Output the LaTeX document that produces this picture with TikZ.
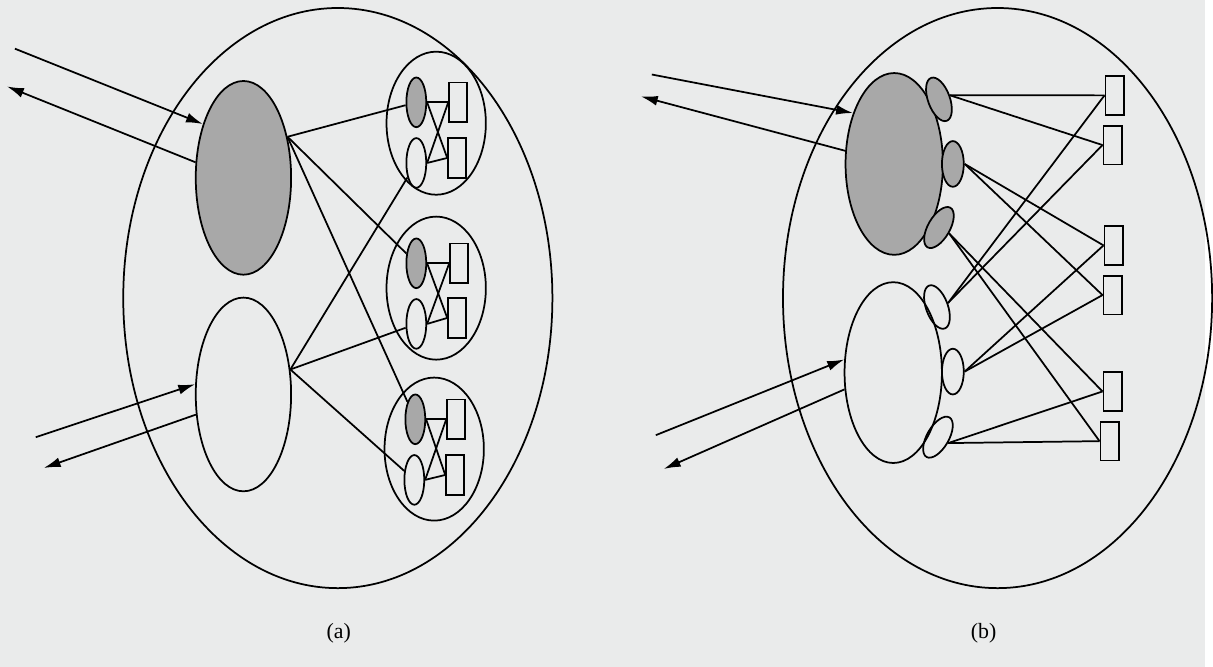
\documentclass[tikz,border=0pt]{standalone}
\usepackage{fontspec}
\setmainfont{Liberation Serif}
\usetikzlibrary{arrows.meta,shapes.geometric}
\definecolor{paper}{RGB}{234,235,235}
\definecolor{shade}{RGB}{168,168,168}

\begin{document}
\begin{tikzpicture}[x=0.02cm, y=-0.02cm, line width=1pt,
    >={Latex[length=3.4mm,width=2mm]},
    outer/.style={draw, ellipse, inner sep=0pt,
                  minimum width=8.64cm, minimum height=11.68cm},
    core/.style={draw, ellipse, inner sep=0pt,
                 minimum width=1.92cm, minimum height=3.9cm},
    pod/.style={draw, ellipse, inner sep=0pt,
                minimum width=2.0cm, minimum height=2.88cm},
    cell/.style={draw, ellipse, inner sep=0pt,
                 minimum width=0.4cm, minimum height=1.0cm},
    port/.style={draw, ellipse, inner sep=0pt,
                 minimum width=0.44cm, minimum height=0.92cm},
    box/.style={draw, rectangle, inner sep=0pt,
                minimum width=0.36cm, minimum height=0.8cm},
    tag/.style={font=\fontsize{12.5pt}{15pt}\selectfont}]

  %% Page
  \fill[paper] (0,0) rectangle (1213,671);

  %% ---------------- (a) ----------------
  \node[outer] (la) at (340,300) {};
  \node[core, fill=shade] (lg) at (245,179) {};
  \node[core]             (lw) at (245,397) {};

  %% Cluster 1
  \node[pod]              (c1)  at (439,124) {};
  \node[cell, fill=shade] (c1g) at (419,103) {};
  \node[cell]             (c1w) at (419,164) {};
  \node[box]              (c1a) at (461,103) {};
  \node[box]              (c1b) at (460,159) {};
  \draw (c1g.east)--(c1a.west); \draw (c1g.east)--(c1b.west);
  \draw (c1w.east)--(c1a.west); \draw (c1w.east)--(c1b.west);

  %% Cluster 2
  \node[pod]              (c2)  at (439,290) {};
  \node[cell, fill=shade] (c2g) at (419,265) {};
  \node[cell]             (c2w) at (419,326) {};
  \node[box]              (c2a) at (462,265) {};
  \node[box]              (c2b) at (460,320) {};
  \draw (c2g.east)--(c2a.west); \draw (c2g.east)--(c2b.west);
  \draw (c2w.east)--(c2a.west); \draw (c2w.east)--(c2b.west);

  %% Cluster 3
  \node[pod]              (c3)  at (437,452) {};
  \node[cell, fill=shade] (c3g) at (418,422) {};
  \node[cell]             (c3w) at (417,483) {};
  \node[box]              (c3a) at (459,422) {};
  \node[box]              (c3b) at (458,478) {};
  \draw (c3g.east)--(c3a.west); \draw (c3g.east)--(c3b.west);
  \draw (c3w.east)--(c3a.west); \draw (c3w.east)--(c3b.west);

  %% Core to clusters
  \draw (lg.43)--(c1g); \draw (lg.43)--(c2g); \draw (lg.43)--(c3g);
  \draw (lw.28)--(c1w); \draw (lw.28)--(c2w); \draw (lw.28)--(c3w);

  %% Outside links
  \coordinate (a1) at (15,49);  \coordinate (a2) at (7,87);
  \coordinate (a3) at (36,440); \coordinate (a4) at (44,471);
  \draw[->] (a1) -- (lg.127);
  \draw[->] (lg.162) -- (a2);
  \draw[->] (a3) -- (lw.168);
  \draw[->] (lw.203) -- (a4);

  \node[tag] (ta) at (341,637) {(a)};

  %% ---------------- (b) ----------------
  \node[outer] (ra) at (1004,300) {};
  \node[core, fill=shade, minimum width=1.96cm, minimum height=3.66cm]
        (rg) at (900,165) {};
  \node[core, minimum width=1.96cm, minimum height=3.64cm]
        (rw) at (899,375) {};

  %% Ports on the cores
  \node[port, fill=shade, rotate=20]  (g1) at (945,100) {};
  \node[port, fill=shade]             (g2) at (959,165) {};
  \node[port, fill=shade, rotate=-30] (g3) at (945,229) {};
  \node[port, rotate=20]  (w1) at (943,309) {};
  \node[port]             (w2) at (959,374) {};
  \node[port, rotate=-30] (w3) at (944,440) {};

  %% Right column
  \node[box, minimum width=0.38cm, minimum height=0.78cm] (r1) at (1122,96)  {};
  \node[box, minimum width=0.38cm, minimum height=0.78cm] (r2) at (1120,146) {};
  \node[box, minimum width=0.38cm, minimum height=0.78cm] (r3) at (1121,247) {};
  \node[box, minimum width=0.38cm, minimum height=0.78cm] (r4) at (1120,297) {};
  \node[box, minimum width=0.38cm, minimum height=0.78cm] (r5) at (1120,394) {};
  \node[box, minimum width=0.38cm, minimum height=0.78cm] (r6) at (1117,444) {};

  \draw (g1.east)--(r1.west); \draw (g1.east)--(r2.west);
  \draw (w1.east)--(r1.west); \draw (w1.east)--(r2.west);
  \draw (g2.east)--(r3.west); \draw (g2.east)--(r4.west);
  \draw (w2.east)--(r3.west); \draw (w2.east)--(r4.west);
  \draw (g3.east)--(r5.west); \draw (g3.east)--(r6.west);
  \draw (w3.east)--(r5.west); \draw (w3.east)--(r6.west);

  %% Outside links
  \coordinate (b1) at (656,75);  \coordinate (b2) at (645,97);
  \coordinate (b3) at (660,438); \coordinate (b4) at (668,472);
  \draw[->] (b1) -- (rg.129);
  \draw[->] (rg.165) -- (b2);
  \draw[->] (b3) -- (rw.165);
  \draw[->] (rw.199) -- (b4);

  \node[tag] (tb) at (990,637) {(b)};
\end{tikzpicture}
\end{document}
